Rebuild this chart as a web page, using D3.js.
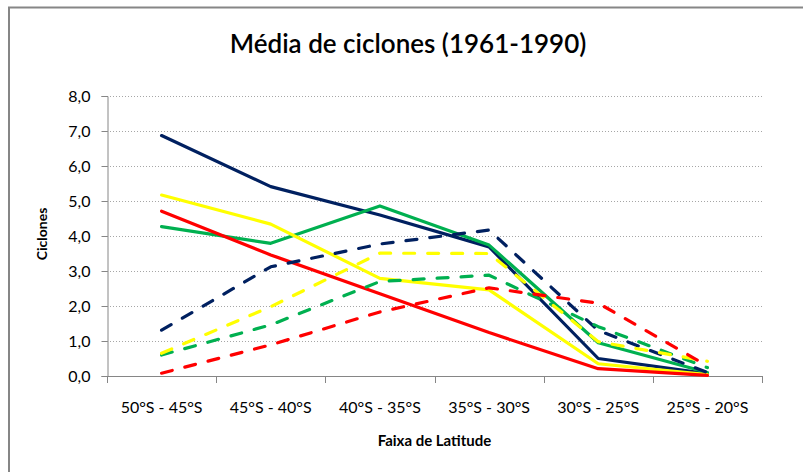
<!DOCTYPE html>
<html>
<head>
<meta charset="utf-8">
<script src="https://cdn.jsdelivr.net/npm/d3@7"></script>
<style>
  body { margin: 0; background: #fff; }
  svg text { font-family: Lato, "Open Sans", sans-serif; fill: #000; }
</style>
</head>
<body>
<svg id="chart" width="803" height="472"></svg>
<script>
const width = 803;
const height = 472;

// categorias (faixas de latitude)
const categories = ["50°S - 45°S", "45°S - 40°S", "40°S - 35°S", "35°S - 30°S", "30°S - 25°S", "25°S - 20°S"];
const yTicks = [0, 1, 2, 3, 4, 5, 6, 7, 8];

// linhas cheias
const azulCheia = [6.87, 5.41, 4.60, 3.69, 0.50, 0.07];
const verdeCheia = [4.27, 3.79, 4.86, 3.74, 0.95, 0.10];
const amareloCheia = [5.17, 4.34, 2.79, 2.46, 0.35, 0.04];
const vermelhoCheia = [4.71, 3.46, 2.35, 1.24, 0.21, 0.02];

// linhas tracejadas
const azulTracejada = [1.31, 3.12, 3.77, 4.17, 1.30, 0.10];
const verdeTracejada = [0.60, 1.46, 2.70, 2.88, 1.41, 0.24];
const amareloTracejada = [0.65, 1.98, 3.51, 3.50, 0.98, 0.42];
const vermelhoTracejada = [0.08, 0.89, 1.83, 2.52, 2.08, 0.29];

const series = [
    {values: azulCheia, color: "#002060", dashed: false},
    {values: verdeCheia, color: "#00B050", dashed: false},
    {values: amareloCheia, color: "#FFFF00", dashed: false},
    {values: vermelhoCheia, color: "#FF0000", dashed: false},
    {values: azulTracejada, color: "#002060", dashed: true},
    {values: verdeTracejada, color: "#00B050", dashed: true},
    {values: amareloTracejada, color: "#FFFF00", dashed: true},
    {values: vermelhoTracejada, color: "#FF0000", dashed: true}
];

const plot = {left: 107, right: 762, top: 96, bottom: 376};

const svg = d3.select("#chart");

// moldura do grafico (cortada a direita e embaixo)
svg.append("path")
    .attr("d", `M9,472 L9,7.5 L803,7.5`)
    .attr("fill", "none")
    .attr("stroke", "#868686")
    .attr("stroke-width", 2);

const x = d3.scaleBand()
    .domain(categories)
    .range([plot.left, plot.right]);

const y = d3.scaleLinear()
    .domain([0, 8])
    .range([plot.bottom, plot.top]);

// grade horizontal pontilhada
svg.append("g")
    .selectAll("line")
    .data(yTicks.slice(1))
    .enter()
    .append("line")
        .attr("x1", plot.left)
        .attr("x2", plot.right)
        .attr("y1", function(d){ return y(d) + 0.5; })
        .attr("y2", function(d){ return y(d) + 0.5; })
        .attr("stroke", "#a6a6a6")
        .attr("stroke-width", 1)
        .attr("stroke-dasharray", "1,2");

// eixo y
const yAxis = svg.append("g")
    .attr("transform", `translate(${plot.left + 0.5},0)`)
    .call(d3.axisLeft(y)
        .tickValues(yTicks)
        .tickSize(6)
        .tickPadding(11)
        .tickFormat(function(d){ return d3.format(".1f")(d).replace(".", ","); }));
yAxis.select(".domain").attr("stroke", "#868686");
yAxis.selectAll(".tick line").attr("stroke", "#868686");
yAxis.selectAll("text").style("font-size", "16px").attr("fill", "#000");

// eixo x: marcas nas divisas das categorias
const xBounds = categories.map(function(c){ return x(c); }).concat([plot.right]);
const xAxis = svg.append("g");
xAxis.append("line")
    .attr("x1", plot.left)
    .attr("x2", plot.right)
    .attr("y1", plot.bottom + 0.5)
    .attr("y2", plot.bottom + 0.5)
    .attr("stroke", "#868686");
xAxis.selectAll(".xtick")
    .data(xBounds)
    .enter()
    .append("line")
        .attr("class", "xtick")
        .attr("x1", function(d){ return Math.round(d) + 0.5; })
        .attr("x2", function(d){ return Math.round(d) + 0.5; })
        .attr("y1", plot.bottom)
        .attr("y2", plot.bottom + 7)
        .attr("stroke", "#868686");
xAxis.selectAll(".xlabel")
    .data(categories)
    .enter()
    .append("text")
        .attr("class", "xlabel")
        .attr("x", function(d){ return x(d) + x.bandwidth() / 2; })
        .attr("y", 413)
        .attr("text-anchor", "middle")
        .style("font-size", "16px")
        .text(function(d){ return d; });

// linhas
const line = d3.line()
    .x(function(d, i){ return x(categories[i]) + x.bandwidth() / 2; })
    .y(function(d){ return y(d); });

svg.append("g")
    .selectAll("path")
    .data(series)
    .enter()
    .append("path")
        .attr("d", function(d){ return line(d.values); })
        .attr("fill", "none")
        .attr("stroke", function(d){ return d.color; })
        .attr("stroke-width", 3.2)
        .attr("stroke-linejoin", "round")
        .attr("stroke-linecap", "round")
        .attr("stroke-dasharray", function(d){ return d.dashed ? "11,13" : null; });

// titulos
svg.append("text")
    .attr("x", 408)
    .attr("y", 53)
    .attr("text-anchor", "middle")
    .style("font-size", "26px")
    .style("font-weight", "600")
    .text("Média de ciclones (1961-1990)");

svg.append("text")
    .attr("transform", "translate(47,234) rotate(-90)")
    .attr("text-anchor", "middle")
    .style("font-size", "14px")
    .style("font-weight", "bold")
    .text("Ciclones");

svg.append("text")
    .attr("x", (plot.left + plot.right) / 2)
    .attr("y", 446)
    .attr("text-anchor", "middle")
    .style("font-size", "15px")
    .style("font-weight", "bold")
    .text("Faixa de Latitude");
</script>
</body>
</html>
